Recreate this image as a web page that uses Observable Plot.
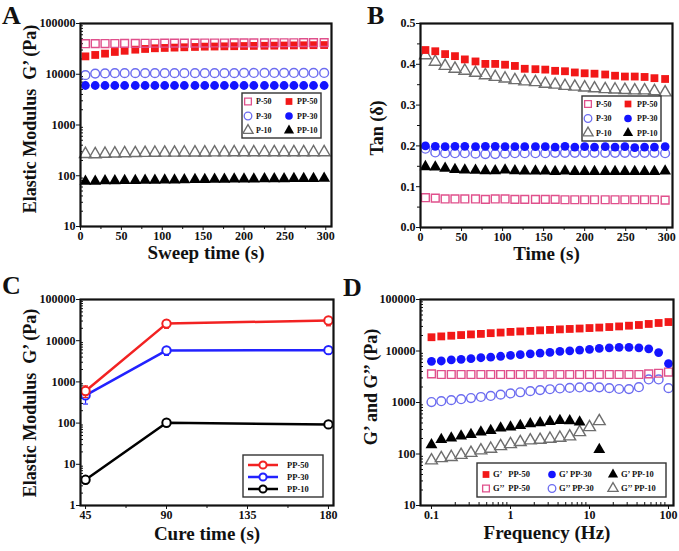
<!DOCTYPE html>
<html><head><meta charset="utf-8">
<script src="https://cdn.jsdelivr.net/npm/d3@7"></script>
<script src="https://cdn.jsdelivr.net/npm/@observablehq/plot@0.6"></script>
<style>
body{margin:0;background:#fff;}
#wrap{position:relative;width:679px;height:551px;overflow:hidden;background:#fff;}
.panel{position:absolute;}
.letter{position:absolute;font-family:"Liberation Serif",serif;font-weight:bold;font-size:26px;line-height:1;color:#111;}
</style></head><body>
<div id="wrap"></div>
<script>
// ---------- Data ----------
// Panel A & B: sweep time (s)
const sweepTime = [6, 18, 30, 42, 54, 67, 79, 91, 103, 115, 127, 140, 152, 164, 176, 188, 200, 212, 225, 237, 249, 261, 273, 285, 298];
// Panel A: elastic modulus G' (Pa)
const A_P50  = [40000, 40200, 40300, 40400, 40500, 40600, 40700, 40800, 40900, 41000, 41000, 41100, 41200, 41300, 41300, 41400, 41500, 41600, 41600, 41700, 41800, 41800, 41900, 42000, 42000];
const A_PP50 = [22500, 24000, 25500, 27500, 29000, 30500, 31500, 32500, 33000, 33500, 34000, 34500, 35000, 35200, 35500, 35700, 36000, 36200, 36400, 36600, 36800, 37000, 37200, 37400, 37600];
const A_P30  = [9600, 10300, 10400, 10500, 10500, 10500, 10500, 10500, 10500, 10500, 10500, 10500, 10500, 10500, 10500, 10500, 10600, 10600, 10600, 10600, 10600, 10600, 10600, 10600, 10600];
const A_PP30 = [6000, 6000, 6000, 6000, 6000, 6000, 6000, 6000, 6000, 6000, 6000, 6000, 6000, 6000, 6000, 6000, 6000, 6000, 6000, 6000, 6000, 6000, 6000, 6000, 6000];
const A_P10  = [268, 265, 270, 274, 277, 279, 281, 283, 284, 285, 286, 287, 287, 288, 288, 289, 289, 289, 290, 290, 290, 290, 290, 290, 290];
const A_PP10 = [78, 78, 79, 79, 80, 80, 81, 81, 82, 82, 83, 84, 84, 85, 85, 86, 86, 86, 87, 87, 87, 88, 88, 88, 89];
// Panel B: tan(delta)
const B_P50  = [0.073, 0.072, 0.070, 0.070, 0.070, 0.070, 0.069, 0.070, 0.070, 0.069, 0.069, 0.069, 0.069, 0.069, 0.068, 0.068, 0.068, 0.068, 0.068, 0.068, 0.068, 0.068, 0.068, 0.068, 0.067];
const B_PP50 = [0.435, 0.432, 0.425, 0.420, 0.412, 0.407, 0.401, 0.401, 0.399, 0.396, 0.389, 0.388, 0.387, 0.384, 0.383, 0.380, 0.378, 0.377, 0.375, 0.372, 0.370, 0.370, 0.369, 0.366, 0.364];
const B_P30  = [0.193, 0.184, 0.182, 0.182, 0.182, 0.181, 0.180, 0.180, 0.181, 0.182, 0.182, 0.182, 0.182, 0.183, 0.183, 0.183, 0.183, 0.183, 0.183, 0.183, 0.183, 0.183, 0.183, 0.183, 0.182];
const B_PP30 = [0.200, 0.199, 0.198, 0.199, 0.199, 0.198, 0.199, 0.199, 0.198, 0.198, 0.198, 0.198, 0.198, 0.197, 0.199, 0.197, 0.198, 0.197, 0.198, 0.197, 0.198, 0.196, 0.197, 0.197, 0.198];
const B_P10  = [0.422, 0.406, 0.396, 0.389, 0.384, 0.379, 0.373, 0.369, 0.365, 0.361, 0.358, 0.356, 0.352, 0.350, 0.347, 0.345, 0.343, 0.341, 0.339, 0.338, 0.337, 0.336, 0.336, 0.334, 0.331];
const B_PP10 = [0.149, 0.148, 0.145, 0.142, 0.141, 0.140, 0.139, 0.139, 0.141, 0.139, 0.138, 0.138, 0.138, 0.137, 0.138, 0.137, 0.137, 0.137, 0.137, 0.137, 0.137, 0.137, 0.137, 0.137, 0.138];
// Panel C: cure time (s) vs G'
const cureTime = [45, 90, 180];
const C_PP50 = [600, 26000, 31000];
const C_PP50_lo = [420, 20000, 23000];
const C_PP50_hi = [800, 32000, 38000];
const C_PP30 = [470, 5800, 5900];
const C_PP30_lo = [290, 4400, 4700];
const C_PP30_hi = [620, 7200, 7200];
const C_PP10 = [4.2, 102, 93];
const C_PP10_lo = [3.4, 92, 85];
const C_PP10_hi = [5.0, 112, 101];
// Panel D: frequency (Hz) vs G', G''
const freq = [0.1, 0.133, 0.178, 0.237, 0.316, 0.422, 0.562, 0.75, 1, 1.33, 1.78, 2.37, 3.16, 4.22, 5.62, 7.5, 10, 13.3, 17.8, 23.7, 31.6, 42.2, 56.2, 75, 100];
const D_G1_PP50 = [18500, 19200, 19800, 20400, 21000, 21500, 22200, 22800, 23500, 24000, 24600, 25200, 25700, 26300, 26800, 27300, 27900, 28500, 29200, 30000, 31000, 32000, 33500, 35000, 36500];
const D_G1_PP30 = [6300, 6400, 6700, 6900, 7100, 7400, 7600, 7900, 8200, 8500, 8800, 9100, 9400, 9800, 10100, 10400, 10800, 11200, 11500, 11800, 11800, 11500, 11000, 9300, 5700];
const D_G1_PP10 = [151, 191, 203, 222, 239, 265, 286, 318, 332, 357, 385, 403, 428, 447, 440, 415, null, 122, null, null, null, null, null, null, null];
const D_G2_PP50 = [3600, 3500, 3500, 3500, 3500, 3500, 3500, 3500, 3500, 3500, 3500, 3500, 3500, 3500, 3500, 3500, 3500, 3500, 3500, 3500, 3500, 3500, 3600, 3700, 3900];
const D_G2_PP30 = [1020, 1060, 1110, 1160, 1220, 1280, 1340, 1420, 1500, 1580, 1660, 1740, 1810, 1870, 1920, 1960, 1990, 1970, 1900, 1830, 1820, 1980, 2800, 2800, 1900];
const D_G2_PP10 = [75, 83, 87, 96, 105, 117, 126, 142, 155, 170, 183, 188, 197, 206, 219, 265, 332, 434, null, null, null, null, null, null, null];
// Tick labels
const sweepTicks = [0, 50, 100, 150, 200, 250, 300];
const tanTicks = [0, 0.1, 0.2, 0.3, 0.4, 0.5];
const cureTicks = [45, 90, 135, 180];
const freqTicks = [0.1, 1, 10, 100];
const decadesA = [10, 100, 1000, 10000, 100000];
const decadesC = [1, 10, 100, 1000, 10000, 100000];

// ---------- Styles ----------
const col = {pink: "#e0508c", red: "#f21818", blueOpen: "#6c6cf0", blue: "#1414ff", gray: "#6e6e6e", black: "#000000"};
const font = "'Liberation Serif', 'Times New Roman', serif";
const baseStyle = {fontFamily: font, fontWeight: "bold", fontSize: "12px", color: "#111", background: "transparent", overflow: "visible"};

function minorLog(lo, hi) {
  const out = [];
  for (let d = lo; d < hi; d *= 10) for (let k = 2; k <= 9; k++) if (d * k <= hi) out.push(d * k);
  return out;
}
function mids(t) { const o = []; for (let i = 0; i < t.length - 1; i++) o.push((t[i] + t[i+1]) / 2); return o; }

function seriesDots(xs, ys, s) {
  const data = xs.map((x, i) => ({x, y: ys[i]})).filter(d => d.y != null);
  return Plot.dot(data, {
    x: "x", y: "y", symbol: s.symbol, r: s.r ?? 4.4,
    fill: s.filled ? s.color : "none",
    stroke: s.filled ? "none" : s.color,
    strokeWidth: s.filled ? 0 : 1.4
  });
}

const symMap = {square: d3.symbolSquare, circle: d3.symbolCircle, triangle: d3.symbolTriangle};
function addLegend(svg, box, items, fontSize) {
  const g = d3.select(svg).append("g").attr("text-anchor", "start");
  g.append("rect").attr("x", box.x).attr("y", box.y).attr("width", box.w).attr("height", box.h)
    .attr("fill", "white").attr("stroke", "#333").attr("stroke-width", 1.4);
  for (const it of items) {
    if (it.line) {
      g.append("line").attr("x1", it.sx - 15).attr("x2", it.sx + 15).attr("y1", it.sy).attr("y2", it.sy)
        .attr("stroke", it.color).attr("stroke-width", 2.5);
      g.append("circle").attr("cx", it.sx).attr("cy", it.sy).attr("r", 3.6)
        .attr("fill", "white").attr("stroke", it.color).attr("stroke-width", 2);
    } else {
      const r = it.r ?? 3.8;
      g.append("path").attr("transform", `translate(${it.sx},${it.sy})`)
        .attr("d", d3.symbol(symMap[it.symbol], Math.PI * r * r)())
        .attr("fill", it.filled ? it.color : "none")
        .attr("stroke", it.filled ? "none" : it.color).attr("stroke-width", 1.3);
    }
    g.append("text").attr("x", it.tx).attr("y", it.sy).attr("dy", "0.35em").attr("text-anchor", "start")
      .attr("font-size", fontSize).attr("font-weight", "bold").attr("font-family", font)
      .attr("fill", "#111").attr("xml:space", "preserve").style("white-space", "pre").text(it.label);
  }
}
function addYLabel(svg, label, cx, cy) {
  d3.select(svg).append("text")
    .attr("transform", `translate(${cx},${cy}) rotate(-90)`)
    .attr("text-anchor", "middle").attr("dy", "0.35em")
    .attr("font-family", font).attr("font-weight", "bold").attr("font-size", 18)
    .attr("fill", "#111").attr("xml:space", "preserve").style("white-space", "pre")
    .text(label);
}

function place(el, left, top) {
  const d = document.createElement("div");
  d.className = "panel"; d.style.left = left + "px"; d.style.top = top + "px";
  d.appendChild(el); document.getElementById("wrap").appendChild(d);
}
function letter(t, left, top) {
  const d = document.createElement("div");
  d.className = "letter"; d.style.left = left + "px"; d.style.top = top + "px"; d.textContent = t;
  document.getElementById("wrap").appendChild(d);
}
function xLabel(t, dy) { return Plot.text([t], {text: d => d, frameAnchor: "bottom", dy, fontSize: 19, fontWeight: "bold", fill: "#111"}); }

const fmtInt = d3.format("d");
function major(axis, ticks, fmt) { return axis({ticks, tickSize: 4, tickPadding: 1, tickFormat: fmt, label: null}); }
function minor(axis, ticks, opts) { return axis({ticks, tickSize: 3, fill: "none", label: null, ...opts}); }
const frame = () => Plot.frame({stroke: "#111", strokeWidth: 2.2});

// ---------- Panel A ----------
const specA = [
  {ys: A_P10, symbol: "triangle", filled: false, color: col.gray},
  {ys: A_PP10, symbol: "triangle", filled: true, color: col.black},
  {ys: A_PP30, symbol: "circle", filled: true, color: col.blue},
  {ys: A_P30, symbol: "circle", filled: false, color: col.blueOpen},
  {ys: A_PP50, symbol: "square", filled: true, color: col.red},
  {ys: A_P50, symbol: "square", filled: false, color: col.pink}
];
const svgA = Plot.plot({
  width: 340, height: 275, marginTop: 23, marginBottom: 49, marginLeft: 80, marginRight: 9,
  style: baseStyle,
  x: {domain: [0, 307]},
  y: {type: "log", domain: [10, 100000]},
  marks: [
    major(Plot.axisX, sweepTicks, fmtInt),
    minor(Plot.axisX, mids(sweepTicks)),
    major(Plot.axisY, decadesA, fmtInt),
    minor(Plot.axisY, minorLog(10, 100000), {dx: 3}),
    ...specA.map(s => seriesDots(sweepTime, s.ys, s)),
    frame(),
    xLabel("Sweep time (s)", 32)
  ]
});
addYLabel(svgA, "Elastic Modulus  G\u2019 (Pa)", 30, 119);
addLegend(svgA, {x: 242, y: 93, w: 79, h: 45}, [
  {symbol: "square", filled: false, color: col.pink, sx: 248, sy: 101.5, tx: 256, label: "P-50"},
  {symbol: "square", filled: true, color: col.red, sx: 289, sy: 101.5, tx: 297, label: "PP-50"},
  {symbol: "circle", filled: false, color: col.blueOpen, sx: 248, sy: 116, tx: 256, label: "P-30"},
  {symbol: "circle", filled: true, color: col.blue, sx: 289, sy: 116, tx: 297, label: "PP-30"},
  {symbol: "triangle", filled: false, color: col.gray, sx: 248, sy: 130.5, tx: 256, label: "P-10"},
  {symbol: "triangle", filled: true, color: col.black, sx: 289, sy: 130.5, tx: 297, label: "PP-10"}
], 8);
place(svgA, 0, 0);

// ---------- Panel B ----------
const specB = [
  {ys: B_P50, symbol: "square", filled: false, color: col.pink},
  {ys: B_PP10, symbol: "triangle", filled: true, color: col.black},
  {ys: B_P30, symbol: "circle", filled: false, color: col.blueOpen},
  {ys: B_PP30, symbol: "circle", filled: true, color: col.blue},
  {ys: B_P10, symbol: "triangle", filled: false, color: col.gray},
  {ys: B_PP50, symbol: "square", filled: true, color: col.red}
];
const svgB = Plot.plot({
  width: 339, height: 275, marginTop: 23, marginBottom: 48, marginLeft: 80, marginRight: 7,
  style: baseStyle,
  x: {domain: [0, 307]},
  y: {domain: [0, 0.5]},
  marks: [
    major(Plot.axisX, sweepTicks, fmtInt),
    minor(Plot.axisX, mids(sweepTicks)),
    major(Plot.axisY, tanTicks, d3.format(".1f")),
    minor(Plot.axisY, mids(tanTicks)),
    ...specB.map(s => seriesDots(sweepTime, s.ys, s)),
    frame(),
    xLabel("Time (s)", 32)
  ]
});
addYLabel(svgB, "Tan (\u03B4)", 37, 128);
addLegend(svgB, {x: 242, y: 96, w: 79, h: 45}, [
  {symbol: "square", filled: false, color: col.pink, sx: 248, sy: 104, tx: 256, label: "P-50"},
  {symbol: "square", filled: true, color: col.red, sx: 288, sy: 104, tx: 297, label: "PP-50"},
  {symbol: "circle", filled: false, color: col.blueOpen, sx: 248, sy: 118.5, tx: 256, label: "P-30"},
  {symbol: "circle", filled: true, color: col.blue, sx: 288, sy: 118.5, tx: 297, label: "PP-30"},
  {symbol: "triangle", filled: false, color: col.gray, sx: 248, sy: 133, tx: 256, label: "P-10"},
  {symbol: "triangle", filled: true, color: col.black, sx: 288, sy: 133, tx: 297, label: "PP-10"}
], 8);
place(svgB, 340, 0);

// ---------- Panel C ----------
const capSymbol = {draw(ctx, size) { const r = Math.sqrt(size / Math.PI); ctx.moveTo(-r, 0); ctx.lineTo(r, 0); }};
const specC = [
  {ys: C_PP10, lo: C_PP10_lo, hi: C_PP10_hi, color: col.black},
  {ys: C_PP30, lo: C_PP30_lo, hi: C_PP30_hi, color: "#2222ff"},
  {ys: C_PP50, lo: C_PP50_lo, hi: C_PP50_hi, color: "#f22222"}
];
const cMarks = [];
for (const s of specC) {
  const data = cureTime.map((t, i) => ({t, v: s.ys[i], lo: s.lo[i], hi: s.hi[i]}));
  cMarks.push(
    Plot.line(data, {x: "t", y: "v", stroke: s.color, strokeWidth: 2.5}),
    Plot.ruleX(data, {x: "t", y1: "lo", y2: "hi", stroke: s.color, strokeWidth: 1.2}),
    Plot.dot(data, {x: "t", y: "lo", symbol: capSymbol, r: 2.5, stroke: s.color, strokeWidth: 1.2}),
    Plot.dot(data, {x: "t", y: "hi", symbol: capSymbol, r: 2.5, stroke: s.color, strokeWidth: 1.2}),
    Plot.dot(data, {x: "t", y: "v", r: 4.2, fill: "white", stroke: s.color, strokeWidth: 2})
  );
}
const svgC = Plot.plot({
  width: 340, height: 276, marginTop: 24, marginBottom: 46, marginLeft: 80, marginRight: 7,
  style: baseStyle,
  x: {domain: [42.2, 182.8]},
  y: {type: "log", domain: [1, 100000]},
  marks: [
    major(Plot.axisX, cureTicks, fmtInt),
    minor(Plot.axisX, mids(cureTicks)),
    major(Plot.axisY, decadesC, fmtInt),
    minor(Plot.axisY, minorLog(1, 100000), {dx: 3}),
    ...cMarks,
    frame(),
    xLabel("Cure time (s)", 34)
  ]
});
addYLabel(svgC, "Elastic Modulus  G\u2019 (Pa)", 30, 128);
addLegend(svgC, {x: 243, y: 180, w: 80, h: 42}, [
  {line: true, color: "#f22222", sx: 263, sy: 190, tx: 287, label: "PP-50"},
  {line: true, color: "#2222ff", sx: 263, sy: 202, tx: 287, label: "PP-30"},
  {line: true, color: col.black, sx: 263, sy: 214, tx: 287, label: "PP-10"}
], 8.5);
place(svgC, 0, 275);

// ---------- Panel D ----------
const specD = [
  {ys: D_G2_PP10, symbol: "triangle", filled: false, color: col.gray},
  {ys: D_G1_PP10, symbol: "triangle", filled: true, color: col.black},
  {ys: D_G2_PP30, symbol: "circle", filled: false, color: col.blueOpen},
  {ys: D_G2_PP50, symbol: "square", filled: false, color: col.pink},
  {ys: D_G1_PP30, symbol: "circle", filled: true, color: col.blue},
  {ys: D_G1_PP50, symbol: "square", filled: true, color: col.red}
];
const svgD = Plot.plot({
  width: 339, height: 276, marginTop: 24, marginBottom: 46, marginLeft: 80, marginRight: 6,
  style: baseStyle,
  x: {type: "log", domain: [0.0726, 115.7]},
  y: {type: "log", domain: [10, 100000]},
  marks: [
    major(Plot.axisX, freqTicks, d => String(d)),
    minor(Plot.axisX, minorLog(0.1, 100), {dy: -3}),
    major(Plot.axisY, decadesA, fmtInt),
    minor(Plot.axisY, minorLog(10, 100000), {dx: 3}),
    ...specD.map(s => seriesDots(freq, s.ys, s)),
    frame(),
    xLabel("Frequency (Hz)", 33)
  ]
});
addYLabel(svgD, "G\u2019 and G\u2019\u2019 (Pa)", 31, 112);
addLegend(svgD, {x: 137, y: 188, w: 189, h: 34}, [
  {symbol: "square", filled: true, color: col.red, sx: 146, sy: 199.5, tx: 153, label: "G\u2019   PP-50"},
  {symbol: "circle", filled: true, color: col.blue, sx: 212, sy: 199.5, tx: 219, label: "G\u2019 PP-30"},
  {symbol: "triangle", filled: true, color: col.black, sx: 273, sy: 199.5, tx: 281, label: "G\u2019 PP-10"},
  {symbol: "square", filled: false, color: col.pink, sx: 146, sy: 213.5, tx: 153, label: "G\u2019\u2019  PP-50"},
  {symbol: "circle", filled: false, color: col.blueOpen, sx: 212, sy: 213.5, tx: 219, label: "G\u2019\u2019 PP-30"},
  {symbol: "triangle", filled: false, color: col.gray, sx: 273, sy: 213.5, tx: 281, label: "G\u2019\u2019 PP-10"}
], 8.5);
place(svgD, 340, 275);

letter("A", 2, 3);
letter("B", 367, 3);
letter("C", 2, 273);
letter("D", 343, 275);
</script></body></html>
